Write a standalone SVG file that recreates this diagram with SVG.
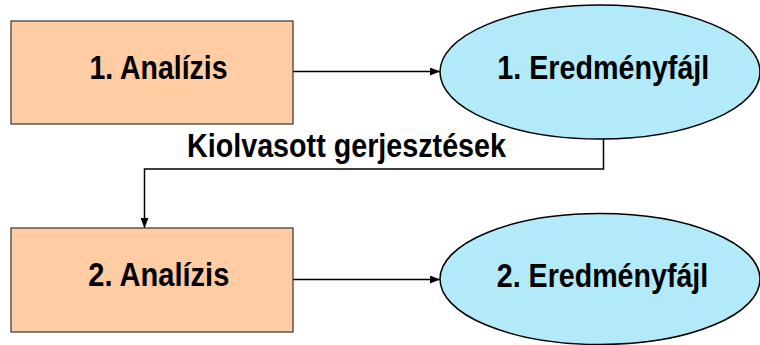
<svg xmlns="http://www.w3.org/2000/svg" width="760" height="345" viewBox="0 0 760 345">
  <defs>
    <marker id="arrow" markerWidth="10" markerHeight="8" refX="10" refY="4" orient="auto" markerUnits="userSpaceOnUse">
      <path d="M0,0 L10,4 L0,8 Z" fill="#000"/>
    </marker>
    <style>
      .box { fill: #FFCCA3; stroke: #333; stroke-width: 1.2; }
      .ell { fill: #B3EAF9; stroke: #000; stroke-width: 1.5; }
      .lbl { font-family: "Liberation Sans", Arial, sans-serif; font-weight: bold; font-size: 34px; fill: #000; text-anchor: middle; }
      .conn { fill: none; stroke: #000; stroke-width: 1.5; }
    </style>
  </defs>
  <rect width="760" height="345" fill="#fff"/>
  <g id="connectors">
    <line class="conn" x1="293" y1="71.5" x2="440" y2="71.5" marker-end="url(#arrow)"/>
    <polyline class="conn" points="603.5,139 603.5,169 144.5,169 144.5,228" marker-end="url(#arrow)"/>
    <line class="conn" x1="293" y1="279.5" x2="440" y2="279.5" marker-end="url(#arrow)"/>
    <text class="lbl" x="346.5" y="157.3" textLength="319" lengthAdjust="spacingAndGlyphs">Kiolvasott gerjesztések</text>
  </g>
  <g id="analizis1">
    <rect class="box" x="11" y="21" width="282" height="103"/>
    <text class="lbl" x="158.5" y="79.3" textLength="138" lengthAdjust="spacingAndGlyphs">1. Analízis</text>
  </g>
  <g id="eredmeny1">
    <ellipse class="ell" cx="600" cy="72" rx="160" ry="67"/>
    <text class="lbl" x="603.3" y="79.3" textLength="212" lengthAdjust="spacingAndGlyphs">1. Eredményfájl</text>
  </g>
  <g id="analizis2">
    <rect class="box" x="11" y="228" width="282" height="104"/>
    <text class="lbl" x="158.8" y="286" textLength="141" lengthAdjust="spacingAndGlyphs">2. Analízis</text>
  </g>
  <g id="eredmeny2">
    <ellipse class="ell" cx="600" cy="279" rx="160" ry="65.5"/>
    <text class="lbl" x="602.5" y="287" textLength="211.5" lengthAdjust="spacingAndGlyphs">2. Eredményfájl</text>
  </g>
</svg>
